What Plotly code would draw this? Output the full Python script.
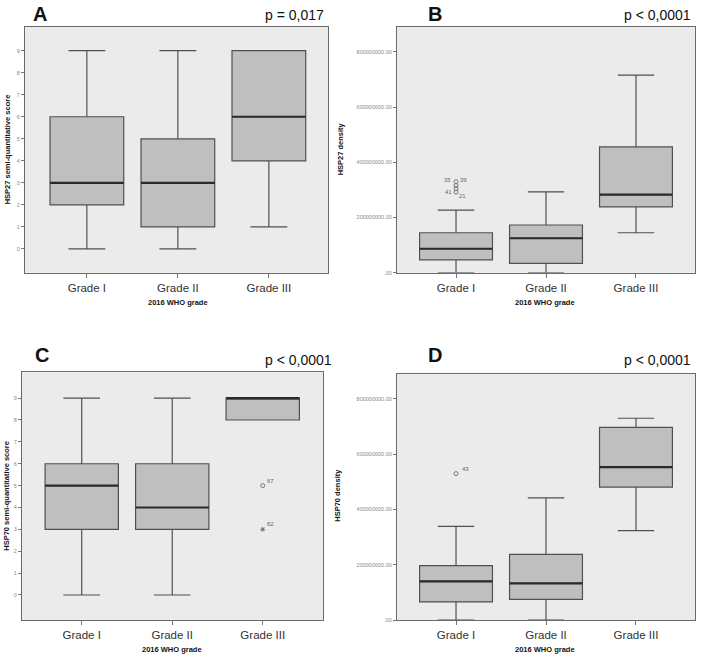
import plotly.graph_objects as go

W, H = 704, 657
categories = ["Grade I", "Grade II", "Grade III"]

# Panel A: HSP27 semi-quantitative score
a_low = [0, 0, 1]
a_q1 = [2, 1, 4]
a_med = [3, 3, 6]
a_q3 = [6, 5, 9]
a_high = [9, 9, 9]

# Panel B: HSP27 density
b_low = [0, 0, 145e6]
b_q1 = [47e6, 34e6, 239e6]
b_med = [87e6, 125e6, 283e6]
b_q3 = [145e6, 173e6, 456e6]
b_high = [227e6, 293e6, 716e6]
b_out_x = [0, 0, 0, 0]
b_out_y = [330e6, 316e6, 305e6, 292e6]
b_out_lab = ["35", "39", "41", "21"]

# Panel C: HSP70 semi-quantitative score
c_low = [0, 0, 8]
c_q1 = [3, 3, 8]
c_med = [5, 4, 9]
c_q3 = [6, 6, 9]
c_high = [9, 9, 9]
c_out_x = [2, 2]
c_out_y = [5, 3]
c_out_lab = ["67", "62"]
c_out_sym = ["circle-open", "asterisk-open"]

# Panel D: HSP70 density
d_low = [0, 0, 324e6]
d_q1 = [66e6, 75e6, 481e6]
d_med = [140e6, 133e6, 553e6]
d_q3 = [197e6, 238e6, 697e6]
d_high = [339e6, 442e6, 730e6]
d_out_x = [0]
d_out_y = [530e6]
d_out_lab = ["43"]

score_ticks = list(range(10))
dens_ticks = [0, 200e6, 400e6, 600e6, 800e6]
dens_ticktext = [".00", "200000000.00", "400000000.00", "600000000.00", "800000000.00"]

BOXW = 0.81
FILL = "#bfbfbf"
LINE = "#505050"
BG = "#ebebeb"

fig = go.Figure()

panels = {
    1: dict(px=(25, 328), py=(27, 274), xr=[-0.68, 2.65], yr=[-1.08, 10.08]),
    2: dict(px=(397, 695), py=(27, 274), xr=[-0.656, 2.656], yr=[0, 891e6]),
    3: dict(px=(22, 323), py=(374, 623), xr=[-0.66, 2.666], yr=[-1.15, 10.18]),
    4: dict(px=(397, 695), py=(376, 623), xr=[-0.656, 2.656], yr=[0, 889e6]),
}

data = {
    1: (a_low, a_q1, a_med, a_q3, a_high),
    2: (b_low, b_q1, b_med, b_q3, b_high),
    3: (c_low, c_q1, c_med, c_q3, c_high),
    4: (d_low, d_q1, d_med, d_q3, d_high),
}

layout = dict(
    width=W, height=H, margin=dict(l=0, r=0, t=0, b=0),
    paper_bgcolor="white", plot_bgcolor=BG, showlegend=False,
    font=dict(family="Liberation Sans, Arial, sans-serif"),
)

for k, p in panels.items():
    xs = "" if k == 1 else str(k)
    xa, ya = "x" + xs, "y" + xs
    low, q1, med, q3, high = data[k]
    fig.add_trace(go.Box(
        x=[0, 1, 2], q1=q1, median=med, q3=q3, lowerfence=low, upperfence=high,
        width=BOXW, whiskerwidth=0.5, fillcolor=FILL,
        line=dict(color=LINE, width=1.2), boxpoints=False,
        xaxis=xa, yaxis=ya, hoverinfo="skip",
    ))
    for i, m in enumerate(med):
        fig.add_trace(go.Scatter(
            x=[i - BOXW / 2, i + BOXW / 2], y=[m, m], mode="lines",
            line=dict(color="#2a2a2a", width=2.2), xaxis=xa, yaxis=ya, hoverinfo="skip",
        ))
    x0, x1 = p["px"]
    y0, y1 = p["py"]
    common = dict(showgrid=False, zeroline=False, showline=True, mirror=True,
                  linecolor="#6a6a6a", linewidth=1.2, ticks="outside",
                  tickcolor="#777777")
    layout["xaxis" + xs] = dict(
        domain=[x0 / W, x1 / W], range=p["xr"], anchor=ya,
        tickvals=[0, 1, 2], ticktext=categories, ticklen=4,
        tickfont=dict(size=11.5, color="#333333"), **common)
    if k in (1, 3):
        yt = dict(tickvals=score_ticks, ticktext=[str(v) for v in score_ticks])
    else:
        yt = dict(tickvals=dens_ticks, ticktext=dens_ticktext)
    layout["yaxis" + xs] = dict(
        domain=[1 - y1 / H, 1 - y0 / H], range=p["yr"], anchor=xa,
        ticklen=3, tickfont=dict(size=5.5, color="#888888"), **yt, **common)

mk = dict(size=4, color="#777777", line=dict(width=1))
fig.add_trace(go.Scatter(
    x=b_out_x, y=b_out_y, mode="markers",
    marker=dict(symbol="circle-open", **mk),
    xaxis="x2", yaxis="y2", hoverinfo="skip"))
fig.add_trace(go.Scatter(
    x=c_out_x, y=c_out_y, mode="markers",
    marker=dict(symbol=c_out_sym, **mk),
    xaxis="x3", yaxis="y3", hoverinfo="skip"))
fig.add_trace(go.Scatter(
    x=d_out_x, y=d_out_y, mode="markers",
    marker=dict(symbol="circle-open", **mk),
    xaxis="x4", yaxis="y4", hoverinfo="skip"))

fig.update_layout(**layout)

ann = []
lab_font = dict(size=6, color="#666666")
b_offsets = [(-9, 2), (7, 6), (-8, -3), (6, -4)]
for (x, y, t), (dx, dy) in zip(zip(b_out_x, b_out_y, b_out_lab), b_offsets):
    ann.append(dict(x=x, y=y, xref="x2", yref="y2", text=t, showarrow=False,
                    xshift=dx, yshift=dy, font=lab_font))
for x, y, t in zip(c_out_x, c_out_y, c_out_lab):
    ann.append(dict(x=x, y=y, xref="x3", yref="y3", text=t, showarrow=False,
                    xshift=8, yshift=5, font=lab_font))
for x, y, t in zip(d_out_x, d_out_y, d_out_lab):
    ann.append(dict(x=x, y=y, xref="x4", yref="y4", text=t, showarrow=False,
                    xshift=9, yshift=5, font=lab_font))


def pa(text, x, y, size, bold=False, angle=0, xanchor="center", color="#111111"):
    t = f"<b>{text}</b>" if bold else text
    return dict(text=t, x=x / W, y=1 - y / H, xref="paper", yref="paper",
                showarrow=False, textangle=angle, xanchor=xanchor, yanchor="middle",
                font=dict(size=size, color=color))

ann += [
    pa("A", 40, 14, 20, bold=True),
    pa("B", 435, 14, 20, bold=True),
    pa("C", 42, 357, 20, bold=True),
    pa("D", 435, 357, 20, bold=True),
    pa("p = 0,017", 326, 15, 14, xanchor="right"),
    pa("p < 0,0001", 693, 15, 14, xanchor="right"),
    pa("p < 0,0001", 334, 362, 14, xanchor="right"),
    pa("p < 0,0001", 693, 362, 14, xanchor="right"),
    pa("HSP27 semi-quantitative score", 7, 150, 7.5, bold=True, angle=-90),
    pa("HSP27 density", 340, 150, 7.5, bold=True, angle=-90),
    pa("HSP70 semi-quantitative score", 7, 498, 7.5, bold=True, angle=-90),
    pa("HSP70 density", 338, 498, 7.5, bold=True, angle=-90),
    pa("2016 WHO grade", 178, 304, 7.5, bold=True),
    pa("2016 WHO grade", 545, 304, 7.5, bold=True),
    pa("2016 WHO grade", 172, 652, 7.5, bold=True),
    pa("2016 WHO grade", 545, 652, 7.5, bold=True),
]
fig.update_layout(annotations=ann)

fig.write_html("out.html")
